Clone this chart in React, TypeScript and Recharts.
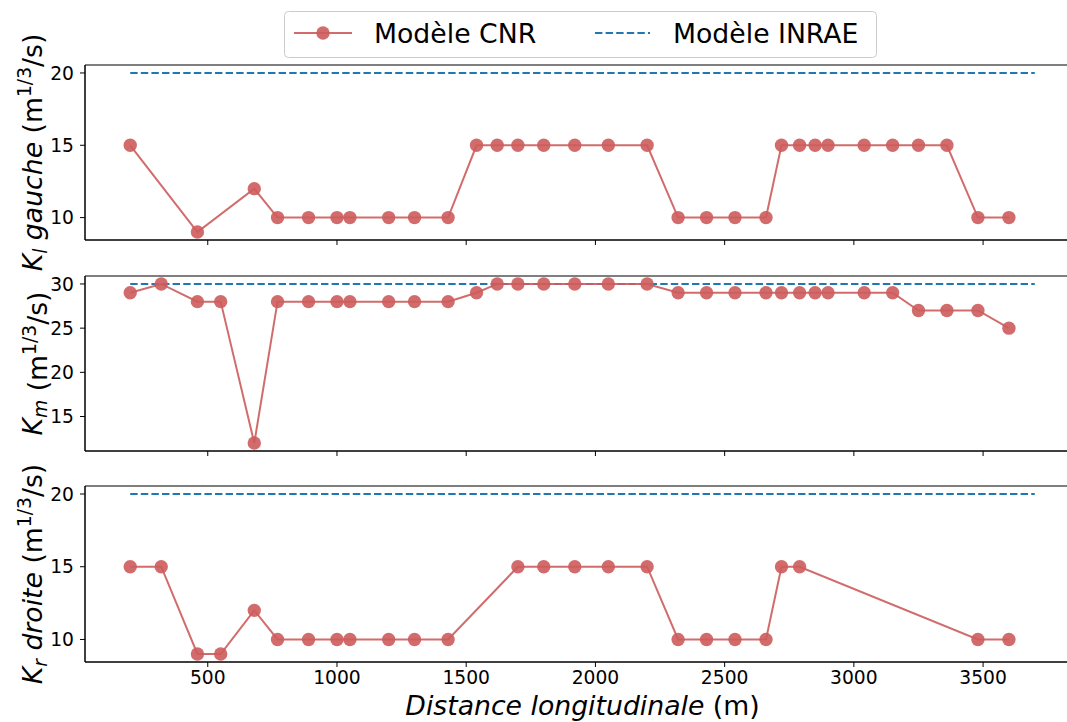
import { LineChart, Line, XAxis, YAxis, ReferenceArea } from 'recharts'

// distances along the reach (m)
const distances = [200, 320, 460, 550, 680, 770, 890, 1000, 1050, 1200, 1300, 1430, 1540, 1620, 1700, 1800, 1920, 2050, 2200, 2320, 2430, 2540, 2660, 2720, 2790, 2850, 2900, 3040, 3150, 3250, 3360, 3480, 3600]

// Modèle CNR, null = no section in that zone
const kGauche = [15, null, 9, null, 12, 10, 10, 10, 10, 10, 10, 10, 15, 15, 15, 15, 15, 15, 15, 10, 10, 10, 10, 15, 15, 15, 15, 15, 15, 15, 15, 10, 10]
const kMineur = [29, 30, 28, 28, 12, 28, 28, 28, 28, 28, 28, 28, 29, 30, 30, 30, 30, 30, 30, 29, 29, 29, 29, 29, 29, 29, 29, 29, 29, 27, 27, 27, 25]
const kDroite = [15, 15, 9, 9, 12, 10, 10, 10, 10, 10, 10, 10, null, null, 15, 15, 15, 15, 15, 10, 10, 10, 10, 15, 15, null, null, null, null, null, null, 10, 10]

// Modèle INRAE (constant)
const inraeX = [200, 3700]
const inraeGauche = [20, 20]
const inraeMineur = [30, 30]
const inraeDroite = [20, 20]

const xTicks = [500, 1000, 1500, 2000, 2500, 3000, 3500]
const yTicksBerges = [10, 15, 20]
const yTicksMineur = [15, 20, 25, 30]

const RED = '#cd5c5c'
const BLUE = '#1f77b4'
const FONT = 'DejaVu Sans'
const X_DOMAIN = [25, 3875]

const tickStyle = { fill: '#000', fontSize: 18.7, fontFamily: FONT }

function yLabel(sub: string, word: string) {
  return (props: any) => {
    const vb = props.viewBox
    const cy = vb.y + vb.height / 2
    return (
      <text transform={`translate(42,${cy}) rotate(-90)`} textAnchor="middle" fontFamily={FONT} fontSize={26.7} fill="#000">
        <tspan fontStyle="italic">K</tspan>
        <tspan fontStyle="italic" fontSize={18.7} dy={5}>{sub}</tspan>
        <tspan dy={-5}>{word ? ' ' : ''}</tspan>
        {word ? <tspan fontStyle="italic">{word}</tspan> : null}
        <tspan> (m</tspan>
        <tspan fontSize={18.7} dy={-11}>1/3</tspan>
        <tspan dy={11}>/s)</tspan>
      </text>
    )
  }
}

function xLabel(props: any) {
  const vb = props.viewBox
  return (
    <text x={vb.x + vb.width / 2} y={vb.y + 53} textAnchor="middle" fontFamily={FONT} fontSize={26.7} fill="#000">
      <tspan fontStyle="italic">Distance longitudinale</tspan>
      <tspan> (m)</tspan>
    </text>
  )
}

function Panel({ top, values, inrae, yDomain, yTicks, sub, word, last }: any) {
  const rows = distances.map((x, i) => ({ x, cnr: values[i] }))
  const ref = inraeX.map((x, i) => ({ x, inrae: inrae[i] }))
  const height = last ? 241 : 200
  return (
    <div style={{ position: 'absolute', left: 0, top }}>
      <LineChart width={1080} height={height} data={rows} margin={{ top: 10, right: 0, bottom: 0, left: 0 }}>
        <XAxis
          dataKey="x"
          type="number"
          domain={X_DOMAIN}
          allowDataOverflow
          ticks={xTicks}
          interval={0}
          height={last ? 55 : 15}
          tickSize={5}
          tickMargin={4}
          tick={tickStyle}
          tickFormatter={last ? undefined : () => ''}
          axisLine={{ stroke: '#000' }}
          tickLine={{ stroke: '#000' }}
          label={last ? { content: xLabel } : undefined}
        />
        <YAxis
          type="number"
          domain={yDomain}
          allowDataOverflow
          ticks={yTicks}
          interval={0}
          width={85}
          tickSize={5}
          tickMargin={6}
          tick={tickStyle}
          axisLine={{ stroke: '#000' }}
          tickLine={{ stroke: '#000' }}
          label={{ content: yLabel(sub, word) }}
        />
        <ReferenceArea x1={X_DOMAIN[0]} x2={X_DOMAIN[1]} y1={yDomain[0]} y2={yDomain[1]} fill="none" stroke="#000" strokeWidth={1} ifOverflow="visible" />
        <Line data={ref} dataKey="inrae" stroke={BLUE} strokeWidth={2} strokeDasharray="7.4 3.2" dot={false} activeDot={false} isAnimationActive={false} />
        <Line
          dataKey="cnr"
          stroke={RED}
          strokeOpacity={0.9}
          strokeWidth={2}
          connectNulls
          dot={{ r: 6.7, fill: RED, fillOpacity: 0.9, stroke: 'none' }}
          activeDot={false}
          isAnimationActive={false}
        />
      </LineChart>
    </div>
  )
}

function LegendBox() {
  return (
    <svg style={{ position: 'absolute', left: 284, top: 11 }} width={593} height={47}>
      <rect x={0.5} y={0.5} width={592} height={46} rx={4} fill="#fff" fillOpacity={0.8} stroke="#ccc" />
      <line x1={10} x2={68} y1={22} y2={22} stroke={RED} strokeOpacity={0.9} strokeWidth={2} />
      <circle cx={39} cy={22} r={6.7} fill={RED} fillOpacity={0.9} />
      <text x={90} y={32} fontFamily={FONT} fontSize={26.7} fill="#000">Modèle CNR</text>
      <line x1={311} x2={366} y1={22} y2={22} stroke={BLUE} strokeWidth={2} strokeDasharray="7.4 3.2" />
      <text x={389} y={32} fontFamily={FONT} fontSize={26.7} fill="#000">Modèle INRAE</text>
    </svg>
  )
}

export default function App() {
  return (
    <div style={{ position: 'absolute', left: 0, top: 0, width: 1067, height: 722, overflow: 'hidden', background: '#fff' }}>
      <style>{'.recharts-surface { overflow: visible; } .recharts-wrapper { overflow: visible; }'}</style>
      <Panel top={55} values={kGauche} inrae={inraeGauche} yDomain={[8.45, 20.55]} yTicks={yTicksBerges} sub="l" word="gauche" />
      <Panel top={266} values={kMineur} inrae={inraeMineur} yDomain={[11.1, 30.9]} yTicks={yTicksMineur} sub="m" word="" />
      <Panel top={476} values={kDroite} inrae={inraeDroite} yDomain={[8.45, 20.55]} yTicks={yTicksBerges} sub="r" word="droite" last />
      <LegendBox />
    </div>
  )
}
